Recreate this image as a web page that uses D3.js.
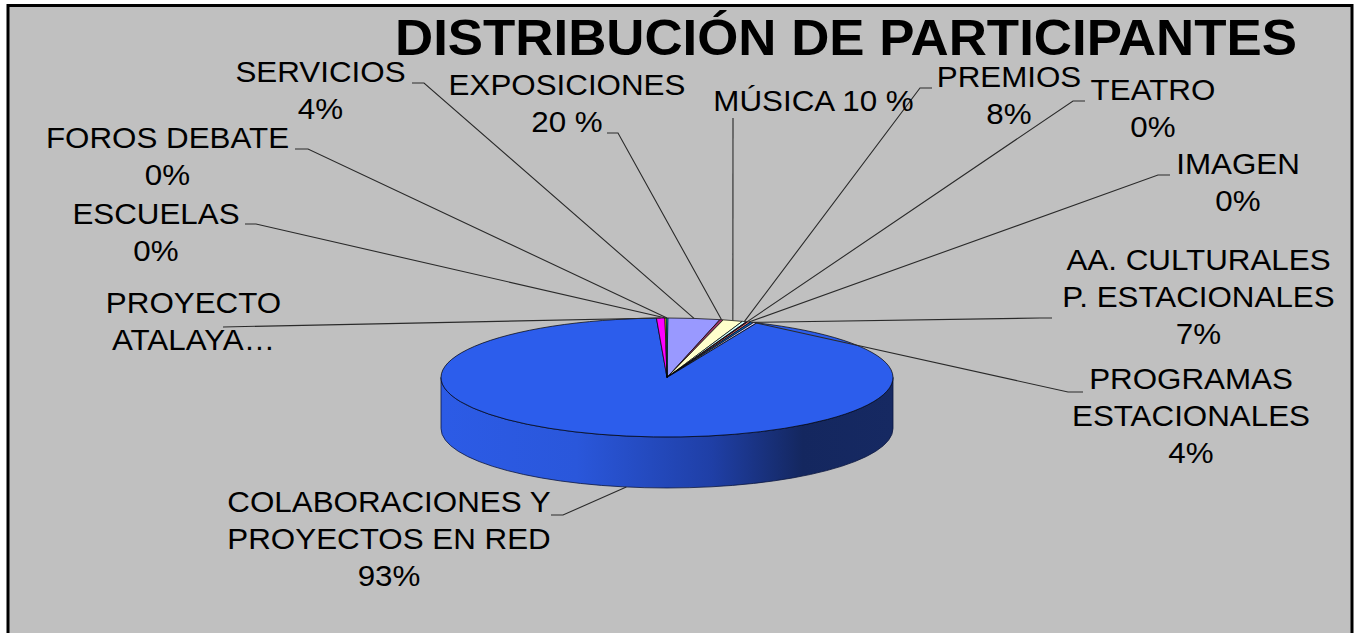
<!DOCTYPE html>
<html>
<head>
<meta charset="utf-8">
<script src="https://cdn.jsdelivr.net/npm/d3@7"></script>
<style>
  body { margin: 0; background: #fff; }
  text { font-family: "Liberation Sans", Arial, sans-serif; fill: #000; }
</style>
</head>
<body>
<div id="chart"></div>
<script>
// Slice data, clockwise from the top of the pie
var categories = ["SERVICIOS", "EXPOSICIONES", "MÚSICA", "PREMIOS", "TEATRO", "IMAGEN",
    "AA. CULTURALES P. ESTACIONALES", "PROGRAMAS ESTACIONALES",
    "COLABORACIONES Y PROYECTOS EN RED", "PROYECTO ATALAYA", "ESCUELAS", "FOROS DEBATE"];
// share of the pie (%)
var shares = [3.7, 0.25, 1.4, 0.3, 0.1, 0.2, 0.25, 0.25, 92.75, 0.6, 0.1, 0.1];
// label texts as printed on the chart
var labelLines = [
    ["SERVICIOS", "4%"],
    ["EXPOSICIONES", "20 %"],
    ["MÚSICA 10 %"],
    ["PREMIOS", "8%"],
    ["TEATRO", "0%"],
    ["IMAGEN", "0%"],
    ["AA. CULTURALES", "P. ESTACIONALES", "7%"],
    ["PROGRAMAS", "ESTACIONALES", "4%"],
    ["COLABORACIONES Y", "PROYECTOS EN RED", "93%"],
    ["PROYECTO", "ATALAYA…"],
    ["ESCUELAS", "0%"],
    ["FOROS DEBATE", "0%"]
];
var sliceColors = ["#9999FF", "#993366", "#FFFFCC", "#CCFFFF", "#660066", "#FF8080",
    "#0066CC", "#CCCCFF", "#2C5DEC", "#FF00FF", "#FFFF00", "#00FFFF"];

// label placement (layout only): first baseline + leader elbow
var labelPos = [
    {x: 320.5, y: 82, lead: [[412, 83], [424, 83]]},
    {x: 567, y: 95, lead: [[607, 133], [618, 133]]},
    {x: 813.5, y: 111, lead: [[733, 118]]},
    {x: 1009, y: 87, lead: [[932, 88], [920, 88]]},
    {x: 1153, y: 100, lead: [[1085, 101], [1073, 101]]},
    {x: 1238, y: 174, lead: [[1170, 175], [1158, 175]]},
    {x: 1198.5, y: 270, lead: [[1052, 318], [1040, 318]]},
    {x: 1191, y: 389, lead: [[1083, 392], [1068, 392]]},
    {x: 389, y: 512, lead: [[551, 515], [563, 515]]},
    {x: 193.5, y: 313, lead: [[223, 327]]},
    {x: 156, y: 224, lead: [[245, 224], [256, 224]]},
    {x: 167.5, y: 148, lead: [[295, 149], [308, 149]]}
];

var W = 1359, H = 633;
var cx = 667, cy = 377.5, rx = 226, ry = 59.5, depth = 51;
var lineGap = 37, stretch = 1.045;

var svg = d3.select("#chart").append("svg")
    .attr("width", W)
    .attr("height", H);

// chart area
svg.append("rect")
    .attr("x", 8).attr("y", 5.5)
    .attr("width", 1344).attr("height", 700)
    .attr("fill", "#C0C0C0")
    .attr("stroke", "#000")
    .attr("stroke-width", 3);

// side shading of the front wall
var grad = svg.append("defs").append("linearGradient")
    .attr("id", "sideGrad")
    .attr("gradientUnits", "userSpaceOnUse")
    .attr("x1", cx - rx).attr("x2", cx + rx)
    .attr("y1", 0).attr("y2", 0);
[[0, "#2C5BE6"], [0.3, "#2A57DB"], [0.6, "#1F3FA6"], [0.8, "#14275F"], [1, "#162962"]]
    .forEach(function (s) {
        grad.append("stop").attr("offset", s[0]).attr("stop-color", s[1]);
    });

var startAngle = 0.2 * Math.PI / 180;
var pie = d3.pie()
    .sort(null)
    .value(function (d) { return d; })
    .startAngle(startAngle)
    .endAngle(startAngle + 2 * Math.PI);
var arcs = pie(shares);

function pt(a, dy) {
    return [cx + rx * Math.sin(a), cy - ry * Math.cos(a) + (dy || 0)];
}

// front walls (only the part facing the viewer, 90°..270°)
var front = arcs.map(function (d, i) {
    return {i: i, a0: Math.max(d.startAngle, Math.PI / 2), a1: Math.min(d.endAngle, 3 * Math.PI / 2)};
}).filter(function (d) { return d.a1 > d.a0; });

svg.append("g").selectAll("path")
    .data(front)
    .enter().append("path")
    .attr("d", function (d) {
        var p0 = pt(d.a0), p1 = pt(d.a1), q1 = pt(d.a1, depth), q0 = pt(d.a0, depth);
        return "M" + p0 + "A" + rx + " " + ry + " 0 0 1 " + p1 +
            "L" + q1 + "A" + rx + " " + ry + " 0 0 0 " + q0 + "Z";
    })
    .attr("fill", function (d) { return d.i === 8 ? "url(#sideGrad)" : d3.color(sliceColors[d.i]).darker(0.8); })
    .attr("stroke", "#0b1640")
    .attr("stroke-width", 0.8);

// top face
svg.append("g").selectAll("path")
    .data(arcs)
    .enter().append("path")
    .attr("d", function (d) {
        var p0 = pt(d.startAngle), p1 = pt(d.endAngle);
        var large = (d.endAngle - d.startAngle) > Math.PI ? 1 : 0;
        return "M" + cx + "," + cy + "L" + p0 + "A" + rx + " " + ry + " 0 " + large + " 1 " + p1 + "Z";
    })
    .attr("fill", function (d, i) { return sliceColors[i]; })
    .attr("stroke", "#000")
    .attr("stroke-width", 0.7)
    .attr("stroke-linejoin", "round");

// leader lines
svg.append("g").selectAll("polyline")
    .data(arcs)
    .enter().append("polyline")
    .attr("points", function (d, i) {
        var mid = (d.startAngle + d.endAngle) / 2;
        var m = ((mid % (2 * Math.PI)) + 2 * Math.PI) % (2 * Math.PI);
        var inFront = m > Math.PI / 2 && m < 3 * Math.PI / 2;
        var end = pt(mid, inFront ? depth : 0);
        return labelPos[i].lead.concat([end]).join(" ");
    })
    .attr("fill", "none")
    .attr("stroke", "#2a2a2a")
    .attr("stroke-width", 1.1);

// labels
var labels = svg.append("g").selectAll("text")
    .data(labelLines)
    .enter().append("text")
    .attr("transform", function (d, i) {
        return "translate(" + labelPos[i].x + "," + labelPos[i].y + ") scale(" + stretch + ",1)";
    })
    .attr("text-anchor", "middle")
    .style("font-size", "30px");

labels.selectAll("tspan")
    .data(function (d) { return d; })
    .enter().append("tspan")
    .attr("x", 0)
    .attr("dy", function (d, j) { return j === 0 ? 0 : lineGap; })
    .text(function (d) { return d; });

// title
svg.append("text")
    .attr("x", 846)
    .attr("y", 55)
    .attr("text-anchor", "middle")
    .attr("textLength", 902)
    .attr("lengthAdjust", "spacingAndGlyphs")
    .style("font-size", "50px")
    .style("font-weight", "bold")
    .text("DISTRIBUCIÓN DE PARTICIPANTES");
</script>
</body>
</html>
